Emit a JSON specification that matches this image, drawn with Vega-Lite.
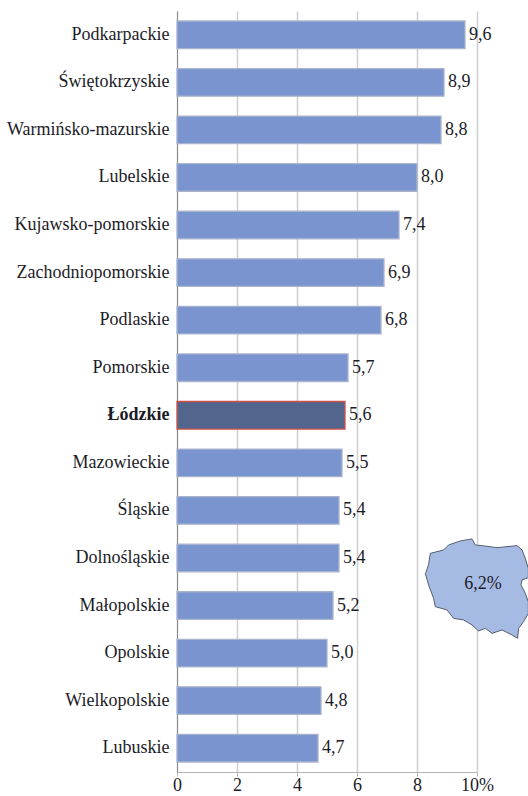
{"$schema":"https://vega.github.io/schema/vega-lite/v6.json","width":300,"height":761,"autosize":{"type":"none"},"padding":{"left":177,"top":11,"right":51,"bottom":24},"background":"white","config":{"view":{"stroke":null}},"layer":[{"data":{"values":[{"region":"Podkarpackie","value":9.6,"label":"9,6"},{"region":"Świętokrzyskie","value":8.9,"label":"8,9"},{"region":"Warmińsko-mazurskie","value":8.8,"label":"8,8"},{"region":"Lubelskie","value":8.0,"label":"8,0"},{"region":"Kujawsko-pomorskie","value":7.4,"label":"7,4"},{"region":"Zachodniopomorskie","value":6.9,"label":"6,9"},{"region":"Podlaskie","value":6.8,"label":"6,8"},{"region":"Pomorskie","value":5.7,"label":"5,7"},{"region":"Łódzkie","value":5.6,"label":"5,6"},{"region":"Mazowieckie","value":5.5,"label":"5,5"},{"region":"Śląskie","value":5.4,"label":"5,4"},{"region":"Dolnośląskie","value":5.4,"label":"5,4"},{"region":"Małopolskie","value":5.2,"label":"5,2"},{"region":"Opolskie","value":5.0,"label":"5,0"},{"region":"Wielkopolskie","value":4.8,"label":"4,8"},{"region":"Lubuskie","value":4.7,"label":"4,7"}]},"encoding":{"y":{"field":"region","type":"nominal","sort":null,"title":null,"scale":{"paddingInner":0.42,"paddingOuter":0.21},"axis":{"domainColor":"#8a8a8a","domainWidth":1,"ticks":false,"labelPadding":8,"labelFont":"Liberation Serif","labelFontSize":18,"labelColor":"#1c1c28","labelLimit":200,"labelFontWeight":{"condition":{"test":"datum.value=='Łódzkie'","value":"bold"},"value":"normal"}}},"x":{"field":"value","type":"quantitative","title":null,"scale":{"domain":[0,10],"nice":false},"axis":{"values":[0,2,4,6,8,10],"labelExpr":"datum.value==10?'10%':datum.label","grid":true,"gridColor":"#cfcfcf","gridWidth":1.5,"domainColor":"#b5b5b5","domainWidth":1,"tickColor":"#b5b5b5","tickSize":4,"labelPadding":0,"labelFont":"Liberation Serif","labelFontSize":18,"labelColor":"#1c1c28","labelFlush":false}}},"layer":[{"mark":{"type":"bar","strokeWidth":1.3},"encoding":{"fill":{"condition":{"test":"datum.region=='Łódzkie'","value":"#52658d"},"value":"#7a94d0"},"stroke":{"condition":{"test":"datum.region=='Łódzkie'","value":"#d0504c"},"value":"#a9b4cc"}}},{"mark":{"type":"text","align":"left","baseline":"middle","dx":4,"font":"Liberation Serif","fontSize":18,"color":"#1c1c28"},"encoding":{"text":{"field":"label"}}}]},{"data":{"values":[{"pos":10.2,"row":3.96,"label":"6,2%"}]},"encoding":{"x":{"field":"pos","type":"quantitative","scale":{"domain":[0,10],"nice":false}},"y":{"field":"row","type":"quantitative","title":null,"axis":null,"scale":{"domain":[0,16],"nice":false,"zero":false}}},"layer":[{"mark":{"type":"point","filled":true,"size":4,"fill":"#a6bbe4","fillOpacity":1,"stroke":"#555e70","strokeWidth":1,"opacity":1,"shape":"M-57,-11.3L-54.4,-19.3L-52.7,-30.3L-39.4,-33.7L-34.4,-38.7L-22.7,-42.7L-11,-44.7L-7.7,-38.7L-1,-38L14,-36L34,-38L39,-33.7L42.3,-25.3L45.3,-15.3L45.3,-6L39,-3.7L38,1.3L42.3,9.7L45.3,18L45.3,29.7L40.6,38L35.6,44.7L34.6,54.7L29,51.3L19,46.3L9,49.7L2.3,44.7L-4.4,47.3L-11,41.3L-19.4,36.3L-29.4,34.7L-36,26.3L-47.7,23L-49.4,14.7L-54.4,1.3L-57.7,-10.3Z"}},{"mark":{"type":"text","align":"center","baseline":"middle","font":"Liberation Serif","fontSize":18,"color":"#1c1c28"},"encoding":{"text":{"field":"label"}}}]}],"resolve":{"scale":{"y":"independent"}}}
